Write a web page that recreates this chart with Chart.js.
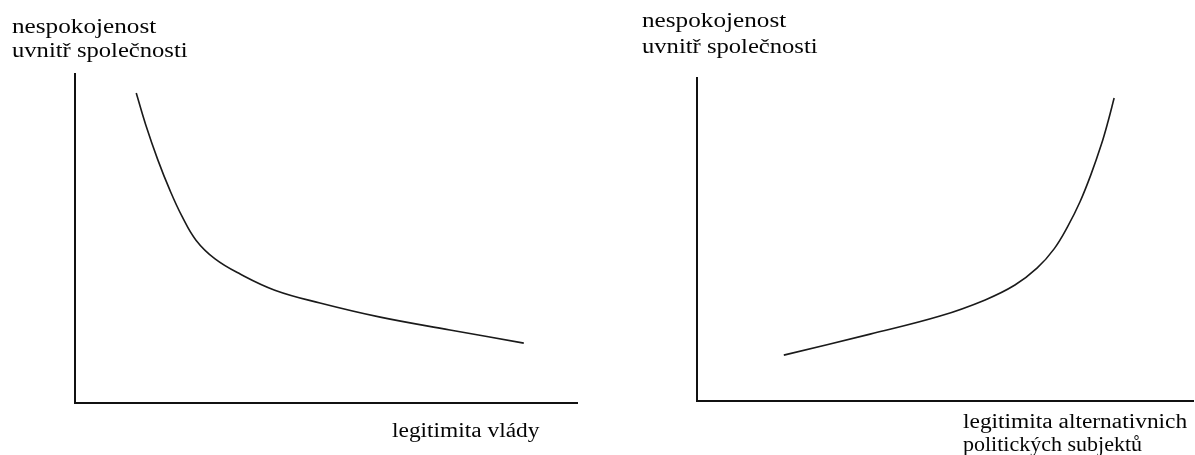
<!DOCTYPE html>
<html>
<head>
<meta charset="utf-8">
<script src="https://cdn.jsdelivr.net/npm/chart.js@4"></script>
<style>
  html, body { margin: 0; padding: 0; background: #fff; }
  body { width: 1195px; height: 455px; position: relative; overflow: hidden; }
  canvas { position: absolute; top: 0; }
  #left { left: 0; }
  #right { left: 600px; }
</style>
</head>
<body>
<canvas id="left" width="600" height="455"></canvas>
<canvas id="right" width="595" height="455"></canvas>
<script>
// ---- Data (arbitrary 0–10 units) ----
const leftX  = [1.22, 1.41, 1.65, 1.89, 2.13, 2.41, 2.79, 3.29, 3.98, 4.88, 6.08, 7.47, 8.94];
const leftY  = [9.42, 8.45, 7.39, 6.47, 5.68, 4.95, 4.38, 3.92, 3.43, 3.04, 2.61, 2.22, 1.82];
const rightX = [1.75, 3.49, 4.90, 5.81, 6.41, 6.86, 7.20, 7.48, 7.72, 7.94, 8.15, 8.29, 8.41];
const rightY = [1.42, 2.07, 2.63, 3.13, 3.59, 4.12, 4.71, 5.42, 6.16, 7.00, 7.93, 8.67, 9.38];

// ---- Text ----
const leftYLabel  = ['nespokojenost', 'uvnitř společnosti'];
const leftXLabel  = ['legitimita vlády'];
const rightYLabel = ['nespokojenost', 'uvnitř společnosti'];
const rightXLabel = ['legitimita alternativnich', 'politických subjektů'];

const textPlugin = {
  id: 'textLabels',
  afterDraw(chart, args, opts) {
    const ctx = chart.ctx;
    ctx.save();
    ctx.fillStyle = '#050505';
    ctx.font = '20px "Liberation Serif", "Times New Roman", serif';
    ctx.textBaseline = 'alphabetic';
    (opts.items || []).forEach(it => {
      ctx.save();
      ctx.translate(it.x, it.y);
      ctx.scale(it.stretch || 1.2, 1);
      ctx.fillText(it.text, 0, 0);
      ctx.restore();
    });
    ctx.restore();
  }
};

function makeChart(id, xs, ys, padding, items) {
  const pts = xs.map((x, i) => ({ x: x, y: ys[i] }));
  return new Chart(document.getElementById(id), {
    type: 'line',
    data: { datasets: [{
      data: pts,
      borderColor: '#1a1a1a',
      borderWidth: 1.6,
      pointRadius: 0,
      fill: false,
      tension: 0.4,
      clip: false
    }]},
    options: {
      responsive: false,
      animation: false,
      devicePixelRatio: 1,
      layout: { padding: padding },
      plugins: {
        legend: { display: false },
        tooltip: { enabled: false },
        textLabels: { items: items }
      },
      scales: {
        x: {
          type: 'linear', min: 0, max: 10,
          grid: { display: false },
          ticks: { display: false },
          border: { display: true, color: '#111', width: 2 },
          afterFit: s => { s.height = 0; }
        },
        y: {
          type: 'linear', min: 0, max: 10,
          grid: { display: false },
          ticks: { display: false },
          border: { display: true, color: '#111', width: 2 },
          afterFit: s => { s.width = 0; }
        }
      }
    },
    plugins: [textPlugin]
  });
}

makeChart('left', leftX, leftY,
  { left: 75, top: 74, right: 23, bottom: 52 },
  [
    { text: leftYLabel[0], x: 12, y: 33, stretch: 1.26 },
    { text: leftYLabel[1], x: 12, y: 57, stretch: 1.23 },
    { text: leftXLabel[0], x: 392, y: 437, stretch: 1.17 }
  ]);

makeChart('right', rightX, rightY,
  { left: 97, top: 78, right: 2, bottom: 54 },
  [
    { text: rightYLabel[0], x: 42, y: 27, stretch: 1.26 },
    { text: rightYLabel[1], x: 42, y: 53, stretch: 1.23 },
    { text: rightXLabel[0], x: 363, y: 428, stretch: 1.17 },
    { text: rightXLabel[1], x: 363, y: 451, stretch: 1.1 }
  ]);
</script>
</body>
</html>
